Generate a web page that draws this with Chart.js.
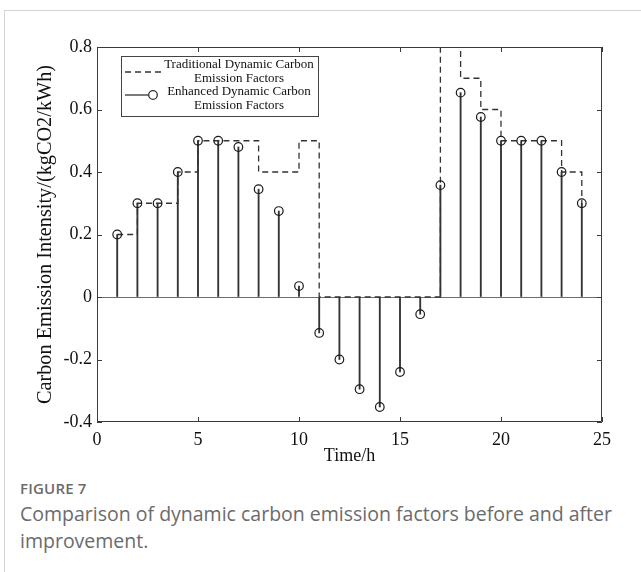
<!DOCTYPE html>
<html>
<head>
<meta charset="utf-8">
<script src="https://cdn.jsdelivr.net/npm/chart.js@4.4.1/dist/chart.umd.min.js"></script>
<style>
    body { margin: 0; background: #fff; }
    #wrap { position: relative; width: 641px; height: 572px; overflow: hidden; }
    #frame { position: absolute; left: 4px; top: 10px; right: -2px; bottom: -2px;
             border-left: 1px solid #d4d4d4; border-top: 1px solid #d4d4d4; }
    #chart { position: absolute; left: 0; top: 0; }
    .fig { position: absolute; left: 20px; font-family: "Open Sans", "Noto Sans", sans-serif; color: #6b6b6b; }
    #figno { top: 478px; font-size: 15px; font-weight: 600; letter-spacing: 0.2px; }
    #caption { top: 500px; font-size: 19.5px; line-height: 27px; width: 615px; }
</style>
</head>
<body>
<div id="wrap">
    <div id="frame"></div>
    <canvas id="chart" width="641" height="470"></canvas>
    <div class="fig" id="figno">FIGURE 7</div>
    <div class="fig" id="caption">Comparison of dynamic carbon emission factors before and after improvement.</div>
</div>
<script>
// Datos
const hours = [1, 2, 3, 4, 5, 6, 7, 8, 9, 10, 11, 12, 13, 14, 15, 16, 17, 18, 19, 20, 21, 22, 23, 24];
const traditional = [0.2, 0.3, 0.3, 0.4, 0.5, 0.5, 0.5, 0.4, 0.4, 0.5, 0, 0, 0, 0, 0, 0, 0.8, 0.7, 0.6, 0.5, 0.5, 0.5, 0.4, 0.3];
const enhanced = [0.2, 0.3, 0.3, 0.4, 0.5, 0.5, 0.48, 0.345, 0.275, 0.035, -0.115, -0.2, -0.295, -0.352, -0.24, -0.055, 0.358, 0.654, 0.576, 0.5, 0.5, 0.5, 0.4, 0.3];
const xTicks = [0, 5, 10, 15, 20, 25];
const yTicks = [-0.4, -0.2, 0, 0.2, 0.4, 0.6, 0.8];

const legendLabels = [
    ['Traditional Dynamic Carbon', 'Emission Factors'],
    ['Enhanced Dynamic Carbon', 'Emission Factors']
];

const serif = '"Liberation Serif", "Times New Roman", serif';
const ink = '#333333';

/**
 * Marco, marcas hacia dentro y leyenda estilo MATLAB
 */
const matlabFrame = {
    id: 'matlabFrame',
    afterDraw(chart) {
        const ctx = chart.ctx;
        const ca = chart.chartArea;
        const xs = chart.scales.x;
        const ys = chart.scales.y;
        const tick = 5;

        ctx.save();
        ctx.strokeStyle = '#3a3a3a';
        ctx.lineWidth = 1;
        ctx.beginPath();
        ctx.rect(ca.left + 0.5, ca.top + 0.5, ca.right - ca.left - 1, ca.bottom - ca.top - 1);
        xTicks.forEach(v => {
            const px = Math.round(xs.getPixelForValue(v)) + 0.5;
            ctx.moveTo(px, ca.bottom);
            ctx.lineTo(px, ca.bottom - tick);
            ctx.moveTo(px, ca.top);
            ctx.lineTo(px, ca.top + tick);
        });
        yTicks.forEach(v => {
            const py = Math.round(ys.getPixelForValue(v)) + 0.5;
            ctx.moveTo(ca.left, py);
            ctx.lineTo(ca.left + tick, py);
            ctx.moveTo(ca.right, py);
            ctx.lineTo(ca.right - tick, py);
        });
        ctx.stroke();

        // Leyenda
        const bx = ca.left + 24, by = ca.top + 9, bw = 197, bh = 60;
        ctx.fillStyle = '#fff';
        ctx.fillRect(bx, by, bw, bh);
        ctx.strokeStyle = '#444';
        ctx.strokeRect(bx + 0.5, by + 0.5, bw, bh);

        ctx.strokeStyle = ink;
        ctx.lineWidth = 1.3;
        ctx.setLineDash([6, 4]);
        ctx.beginPath();
        ctx.moveTo(bx + 4, by + 16);
        ctx.lineTo(bx + 40, by + 16);
        ctx.stroke();
        ctx.setLineDash([]);
        ctx.beginPath();
        ctx.moveTo(bx + 4, by + 39);
        ctx.lineTo(bx + 28, by + 39);
        ctx.stroke();
        ctx.beginPath();
        ctx.arc(bx + 32, by + 39, 4.3, 0, Math.PI * 2);
        ctx.stroke();

        ctx.fillStyle = '#111';
        ctx.font = '13px ' + serif;
        ctx.textAlign = 'center';
        ctx.textBaseline = 'middle';
        const tx = bx + 118;
        ctx.fillText(legendLabels[0][0], tx, by + 9);
        ctx.fillText(legendLabels[0][1], tx, by + 23);
        ctx.fillText(legendLabels[1][0], tx, by + 36);
        ctx.fillText(legendLabels[1][1], tx, by + 50);
        ctx.restore();
    }
};

const ctx = document.getElementById('chart').getContext('2d');

const chart = new Chart(ctx, {
    type: 'scatter',
    data: {
        datasets: [
            {
                type: 'line',
                label: 'Traditional Dynamic Carbon Emission Factors',
                data: hours.map((h, i) => ({ x: h, y: traditional[i] })),
                stepped: 'before',
                borderColor: ink,
                borderWidth: 1.3,
                borderDash: [6, 4],
                pointRadius: 0,
                fill: false,
                order: 3
            },
            {
                type: 'bar',
                label: 'stems',
                data: hours.map((h, i) => ({ x: h, y: enhanced[i] })),
                backgroundColor: ink,
                barThickness: 1.2,
                grouped: false,
                order: 2
            },
            {
                type: 'scatter',
                label: 'Enhanced Dynamic Carbon Emission Factors',
                data: hours.map((h, i) => ({ x: h, y: enhanced[i] })),
                pointStyle: 'circle',
                pointRadius: 4.3,
                borderColor: '#1a1a1a',
                borderWidth: 1.2,
                backgroundColor: 'rgba(0,0,0,0)',
                order: 1
            }
        ]
    },
    options: {
        responsive: false,
        animation: false,
        devicePixelRatio: 1,
        layout: {
            padding: { top: 47, right: 39, left: 0, bottom: 0 }
        },
        plugins: {
            legend: { display: false },
            tooltip: { enabled: false }
        },
        scales: {
            x: {
                type: 'linear',
                min: 0,
                max: 25,
                offset: false,
                afterFit: s => { s.height = 48; },
                afterBuildTicks: s => { s.ticks = xTicks.map(v => ({ value: v })); },
                grid: { display: false, drawTicks: false },
                border: { display: false },
                ticks: {
                    color: '#111',
                    padding: 7,
                    maxRotation: 0,
                    font: { family: serif, size: 18 }
                },
                title: {
                    display: true,
                    text: 'Time/h',
                    color: '#111',
                    padding: { top: 0, bottom: 3 },
                    font: { family: serif, size: 18 }
                }
            },
            y: {
                min: -0.4,
                max: 0.8,
                afterFit: s => { s.width = 97; },
                afterBuildTicks: s => { s.ticks = yTicks.map(v => ({ value: v })); },
                grid: {
                    drawTicks: false,
                    color: c => (c.tick && c.tick.value === 0) ? '#6e6e6e' : 'rgba(0,0,0,0)',
                    lineWidth: 1
                },
                border: { display: false },
                ticks: {
                    color: '#111',
                    padding: 5,
                    font: { family: serif, size: 18 },
                    callback: v => String(+v.toFixed(1))
                },
                title: {
                    display: true,
                    text: 'Carbon Emission Intensity/(kgCO2/kWh)',
                    color: '#111',
                    padding: { top: 33, bottom: 0 },
                    font: { family: serif, size: 20.3 }
                }
            }
        }
    },
    plugins: [matlabFrame]
});
</script>
</body>
</html>
